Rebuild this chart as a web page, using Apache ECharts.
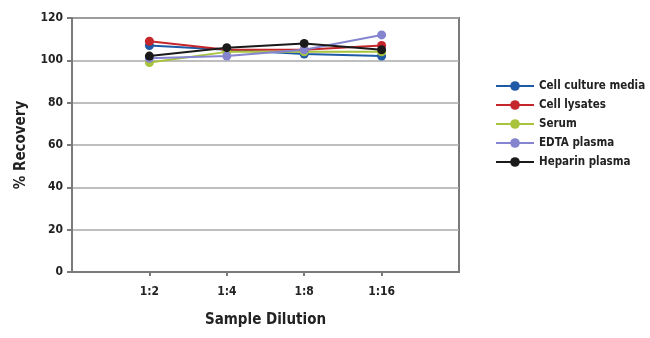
<!DOCTYPE html>
<html>
<head>
<meta charset="utf-8">
<script src="https://cdn.jsdelivr.net/npm/echarts@6/dist/echarts.min.js"></script>
<style>
  html, body { margin: 0; padding: 0; background: #fff; }
  #chart { width: 650px; height: 338px; }
</style>
</head>
<body>
<div id="chart"></div>
<script>
// Dilution steps; blank slots pad the axis on both sides
const dilutions = ['1:2', '1:4', '1:8', '1:16'];

// % recovery per sample type
const cellCultureMedia = [107, 105, 103, 102];
const cellLysates      = [109, 105, 105, 107];
const serum            = [99, 104, 104, 104];
const edtaPlasma       = [101, 102, 105, 112];
const heparinPlasma    = [102, 106, 108, 105];

const yTicks = [0, 20, 40, 60, 80, 100, 120];

const FONT = '"DejaVu Sans Condensed", "Liberation Sans Narrow", sans-serif';
const categories = [''].concat(dilutions, ['']);
const pad = arr => [null].concat(arr, [null]);

const seriesDefs = [
  { name: 'Cell culture media', data: cellCultureMedia, color: '#1f5aa6' },
  { name: 'Cell lysates',       data: cellLysates,      color: '#c4262b' },
  { name: 'Serum',              data: serum,            color: '#a9c43c' },
  { name: 'EDTA plasma',        data: edtaPlasma,       color: '#8585cf' },
  { name: 'Heparin plasma',     data: heparinPlasma,    color: '#1a1a1a' }
];

const chart = echarts.init(document.getElementById('chart'));
chart.setOption({
  animation: false,
  backgroundColor: '#fff',
  grid: {
    left: 72, right: 191, top: 18, bottom: 66,
    show: true, borderColor: '#7a7a7a', borderWidth: 2
  },
  legend: {
    orient: 'vertical',
    left: 490, top: 75,
    itemWidth: 38, itemHeight: 12, itemGap: 7,
    textStyle: { fontFamily: FONT, fontWeight: 'bold', fontSize: 11.5, color: '#222' },
    data: seriesDefs.map(s => s.name)
  },
  xAxis: {
    type: 'category',
    data: categories,
    boundaryGap: false,
    name: 'Sample Dilution',
    nameLocation: 'middle',
    nameGap: 41,
    nameTextStyle: { fontFamily: FONT, fontWeight: 'bold', fontSize: 15, color: '#222' },
    axisLine: { lineStyle: { color: '#7a7a7a', width: 2 } },
    axisTick: {
      length: 4, lineStyle: { color: '#7a7a7a', width: 2 },
      interval: (i) => i > 0 && i < categories.length - 1
    },
    axisLabel: {
      interval: 0, margin: 14,
      fontFamily: FONT, fontWeight: 'bold', fontSize: 12, color: '#222'
    },
    splitLine: { show: false }
  },
  yAxis: {
    type: 'value',
    min: yTicks[0], max: yTicks[yTicks.length - 1], interval: 20,
    name: '% Recovery',
    nameLocation: 'middle',
    nameGap: 43,
    nameTextStyle: { fontFamily: FONT, fontWeight: 'bold', fontSize: 15, color: '#222' },
    axisLine: { show: true, lineStyle: { color: '#7a7a7a', width: 2 } },
    axisTick: { show: true, inside: false, length: 5, lineStyle: { color: '#7a7a7a', width: 2 } },
    axisLabel: { margin: 9, fontFamily: FONT, fontWeight: 'bold', fontSize: 12, color: '#222' },
    splitLine: { show: true, lineStyle: { color: '#a8a8a8', width: 1.5 } }
  },
  series: seriesDefs.map(s => ({
    name: s.name,
    type: 'line',
    data: pad(s.data),
    symbol: 'circle',
    symbolSize: 9,
    color: s.color,
    lineStyle: { color: s.color, width: 2 },
    itemStyle: { color: s.color }
  }))
});
</script>
</body>
</html>
